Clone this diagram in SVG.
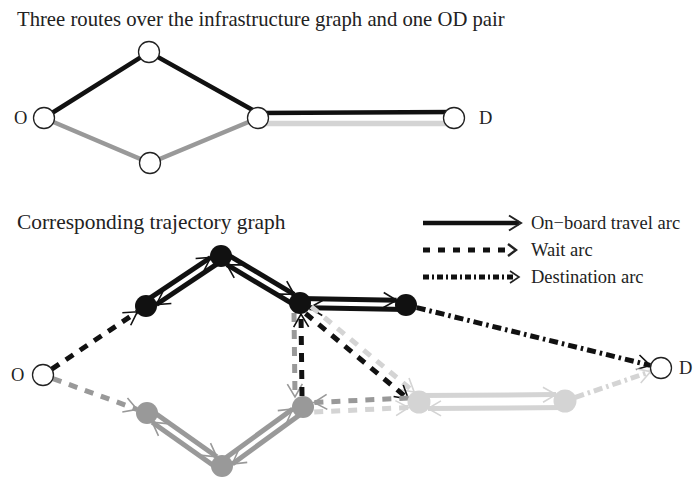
<svg xmlns="http://www.w3.org/2000/svg" width="694" height="480" viewBox="0 0 694 480">
<style>
text{font-family:"Liberation Serif","Times New Roman",serif;font-size:18.5px;fill:#222}
.title{font-size:20.7px}
.sub{font-size:21.4px}
.open{fill:#fff;stroke:#222;stroke-width:1.3}
.nk{fill:#111}.ng{fill:#999}.nl{fill:#d4d4d4}
.k{stroke:#111}.g{stroke:#999}.l{stroke:#d4d4d4}
.ln{fill:none;stroke-width:4.5}
.ob{fill:none;stroke-width:5}
.wt{fill:none;stroke-width:5;stroke-dasharray:9 8}
.ds{fill:none;stroke-width:5;stroke-dasharray:9 4 2.5 4}
.ck{marker-end:url(#mk)}.cg{marker-end:url(#mg)}.cl{marker-end:url(#ml)}
.chev{fill:none;stroke:#222}
</style>
<defs>
<marker id="mk" markerUnits="userSpaceOnUse" markerWidth="30" markerHeight="30" refX="0" refY="0" viewBox="-15 -15 30 30" orient="auto" overflow="visible"><path d="M-13,-7.5 L0,0 L-13,7.5" fill="none" stroke="#111" stroke-width="1.6"/></marker>
<marker id="mg" markerUnits="userSpaceOnUse" markerWidth="30" markerHeight="30" refX="0" refY="0" viewBox="-15 -15 30 30" orient="auto" overflow="visible"><path d="M-13,-7.5 L0,0 L-13,7.5" fill="none" stroke="#999" stroke-width="1.6"/></marker>
<marker id="ml" markerUnits="userSpaceOnUse" markerWidth="30" markerHeight="30" refX="0" refY="0" viewBox="-15 -15 30 30" orient="auto" overflow="visible"><path d="M-13,-7.5 L0,0 L-13,7.5" fill="none" stroke="#d4d4d4" stroke-width="1.6"/></marker>
</defs>

<text class="title" x="17" y="26">Three routes over the infrastructure graph and one OD pair</text>
<text class="sub" x="17" y="229">Corresponding trajectory graph</text>

<!-- infrastructure graph connectors -->
<g id="infra-edges">
<polyline class="ln k" points="44,118 149,52 258,113 454,112"/>
<polyline class="ln g" stroke-width="4" points="44,118 150,163 258,118"/>
<line class="l" stroke-width="5.5" x1="258" y1="123.5" x2="454" y2="123.5"/>
</g>
<g id="i-O"><circle class="open" cx="44" cy="118" r="10.5"/><text x="14" y="124">O</text></g>
<g id="i-top"><circle class="open" cx="149" cy="52" r="10.5"/></g>
<g id="i-bottom"><circle class="open" cx="150" cy="163" r="10.5"/></g>
<g id="i-mid"><circle class="open" cx="258" cy="118" r="10.5"/></g>
<g id="i-D"><circle class="open" cx="454" cy="118" r="10.5"/><text x="479" y="124">D</text></g>

<!-- legend -->
<g id="legend">
<line class="k" stroke-width="4.5" x1="423" y1="223" x2="519" y2="223"/>
<path class="chev" stroke-width="2" d="M509,215.5 L521,223 L509,230.5"/>
<text x="531" y="229">On−board travel arc</text>
<line class="k" stroke-width="5" stroke-dasharray="7 8" x1="423" y1="250" x2="511" y2="250"/>
<path class="chev" stroke-width="2.4" d="M508,244 L516,250 L508,256"/>
<text x="531" y="256">Wait arc</text>
<line class="k" stroke-width="5" stroke-dasharray="6 3 2 3" x1="423" y1="277" x2="514" y2="277"/>
<path class="chev" stroke-width="1.6" d="M510,271 L519,277 L510,283"/>
<text x="531" y="283">Destination arc</text>
</g>

<!-- trajectory graph connectors -->
<g id="traj-edges">
<line class="ob k ck" x1="143.5" y1="302.3" x2="210.6" y2="257.5"/>
<line class="ob k ck" x1="223.5" y1="259.7" x2="156.4" y2="304.5"/>
<line class="ob k ck" x1="223.3" y1="252.1" x2="294.1" y2="294.3"/>
<line class="ob k ck" x1="297.7" y1="306.9" x2="226.9" y2="264.7"/>
<line class="ob k ck" x1="300.1" y1="298.5" x2="396.6" y2="300.3"/>
<line class="ob k ck" x1="405.9" y1="309.5" x2="309.4" y2="307.7"/>
<line class="ob g cg" x1="149.6" y1="409.3" x2="216.8" y2="456.8"/>
<line class="ob g cg" x1="219.4" y1="469.7" x2="152.2" y2="422.2"/>
<line class="ob g cg" x1="219.4" y1="462.4" x2="292.7" y2="409.0"/>
<line class="ob g cg" x1="305.7" y1="410.6" x2="232.3" y2="464.0"/>
<line class="ob l cl" x1="419" y1="395.5" x2="556" y2="394.6"/>
<line class="ob l cl" x1="565" y1="407.5" x2="428" y2="408.5"/>
<line class="wt k ck" x1="51.7" y1="369.2" x2="137.3" y2="311.8"/>
<line class="wt g cg" x1="52.9" y1="378.6" x2="137.1" y2="409.4"/>
<line class="wt g cg" x1="294" y1="313" x2="295" y2="397"/>
<line class="wt k ck" x1="302" y1="396" x2="301" y2="314"/>
<line class="wt l cl" x1="311.3" y1="306.6" x2="414.2" y2="392.1"/>
<line class="wt k ck" x1="305.6" y1="313.5" x2="408.4" y2="399.1"/>
<line class="wt g cg" x1="408.3" y1="398" x2="314" y2="402.5"/>
<line class="wt l cl" x1="314.2" y1="412" x2="408.7" y2="407.5"/>
<line class="ds k ck" x1="416.7" y1="307.6" x2="650.3" y2="365.4"/>
<line class="ds l cl" x1="575.4" y1="397.4" x2="650.6" y2="371.6"/>
</g>

<!-- trajectory graph nodes -->
<g id="t-O"><circle class="open" cx="43" cy="375" r="10.5"/><text x="11" y="381">O</text></g>
<g id="t-D"><circle class="open" cx="661" cy="368" r="10.5"/><text x="679" y="374">D</text></g>
<g id="t-B1"><circle class="nk" cx="146" cy="306" r="11"/></g>
<g id="t-B2"><circle class="nk" cx="221" cy="256" r="11"/></g>
<g id="t-B3"><circle class="nk" cx="300" cy="303" r="11"/></g>
<g id="t-B4"><circle class="nk" cx="406" cy="305" r="11"/></g>
<g id="t-G1"><circle class="ng" cx="147" cy="413" r="11"/></g>
<g id="t-G2"><circle class="ng" cx="222" cy="466" r="11"/></g>
<g id="t-G3"><circle class="ng" cx="303" cy="407" r="11"/></g>
<g id="t-L1"><circle class="nl" cx="419" cy="402" r="11.5"/></g>
<g id="t-L2"><circle class="nl" cx="565" cy="401" r="11.5"/></g>
</svg>
